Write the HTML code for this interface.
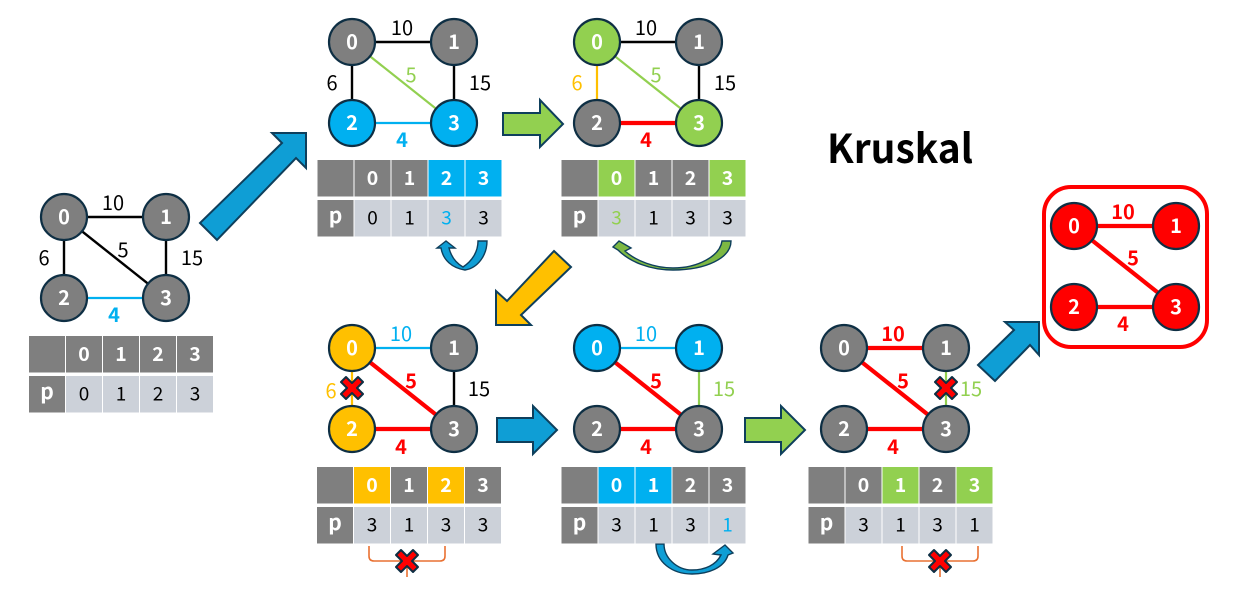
<!DOCTYPE html>
<html><head><meta charset="utf-8"><title>Kruskal</title>
<style>
html,body{margin:0;padding:0;background:#fff;width:1234px;height:605px;overflow:hidden}
svg{display:block;font-family:"Noto Sans CJK KR","Liberation Sans",sans-serif}
text{text-anchor:middle}
.n{font-size:20px;font-weight:700;fill:#fff}
.h{font-size:19.5px;font-weight:700;fill:#fff}
.p{font-size:21px;font-weight:700;fill:#fff}
.e{font-size:20px;fill:#000}
.v{font-size:19px;fill:#000}
.b{font-weight:700}
.ci{stroke:#0E2F44;stroke-width:2.2}
.g{fill:#7F7F7F}.c{fill:#CCD1D9}
.bl{fill:#00B0F0}.gr{fill:#92D050}.ye{fill:#FFC000}.rd{fill:#FF0000}
.k{stroke:#000;stroke-width:2.4}
.kb{stroke:#00B0F0;stroke-width:2.2}
.kg{stroke:#92D050;stroke-width:2.2}
.ky{stroke:#FFC000;stroke-width:2.2}
.kr{stroke:#FF0000;stroke-width:4.2}
.ar{stroke:#0E3F5C;stroke-width:2;stroke-linejoin:miter}
.cv{stroke:#0E3F5C;stroke-width:1.4;stroke-linejoin:miter}
.x{fill:#FF0000;stroke:#0E2F44;stroke-width:2;stroke-linejoin:round}
.br{fill:none;stroke:#E97132;stroke-width:1.6}
</style></head><body>
<svg width="1234" height="605" viewBox="0 0 1234 605" xmlns="http://www.w3.org/2000/svg">

<!-- Arrows -->
<polygon class="ar" fill="#0F9ED5" points="200,223 217,240 296,158 306,168 306,133 272,133 282,143"/>
<polygon class="ar" fill="#92D050" points="503,113 540,113 540,100 563,124 540,147 540,135 503,135"/>
<polygon class="ar" fill="#FFC000" points="554,251 571,267 521,315 531,325 496,325 496,291 507,301"/>
<polygon class="ar" fill="#0F9ED5" points="497,418 533,418 533,406 557,430 533,454 533,442 497,442"/>
<polygon class="ar" fill="#92D050" points="745,418 781,418 781,406 805,430 781,454 781,442 745,442"/>
<polygon class="ar" fill="#0F9ED5" points="978,365 995,381 1030,345 1039,355 1039,322 1005,322 1014,330"/>

<!-- Curved arrows -->
<path class="cv" fill="#0F9ED5" d="M478,241 L487,241 C487,255 478,268 465,270 C452,268 443,260 441,248 L437,248 L446,241 L455,248 L449,248 C451,256 456,263 463,267 C472,261 478,252 478,241 Z"/>
<path class="cv" fill="#7DB843" d="M722,241 L731,241 C731,258 706,270 673,270 C650,270 630,262 618,250 L613,247 L619,241 L631,248 L625,251 C636,261 655,268 673,268 C698,268 720,256 722,241 Z"/>
<path class="cv" fill="#0F9ED5" d="M656,544 L664,544 C664,558 677,570 692,570 C705,570 716,565 721,555 L713,554 L725,545 L733,553 L728,555 C724,568 708,574 692,574 C672,574 656,562 656,544 Z"/>

<!-- Graph 1 -->
<g transform="translate(64,217)">
<line class="k" x2="102"/><line class="k" y2="81"/><line class="k" x1="102" x2="102" y2="81"/><line class="k" x2="102" y2="81"/><line class="kb" y1="81" x2="102" y2="81"/>
<circle class="ci g" r="23"/><circle class="ci g" cx="102" r="23"/><circle class="ci g" cy="81" r="23"/><circle class="ci g" cx="102" cy="81" r="23"/>
<text class="n" y="7">0</text><text class="n" x="102" y="7">1</text><text class="n" y="88">2</text><text class="n" x="102" y="88">3</text>
<text class="e" x="49" y="-7">10</text><text class="e" x="-20" y="48">6</text><text class="e" x="59" y="40">5</text><text class="e" x="128" y="48">15</text><text class="e b" x="50" y="105" style="fill:#00B0F0">4</text>
</g>

<!-- Graph A -->
<g transform="translate(352,42)">
<line class="k" x2="102"/><line class="k" y2="81"/><line class="k" x1="102" x2="102" y2="81"/><line class="kg" x2="102" y2="81"/><line class="kb" y1="81" x2="102" y2="81"/>
<circle class="ci g" r="23"/><circle class="ci g" cx="102" r="23"/><circle class="ci bl" cy="81" r="23"/><circle class="ci bl" cx="102" cy="81" r="23"/>
<text class="n" y="7">0</text><text class="n" x="102" y="7">1</text><text class="n" y="88">2</text><text class="n" x="102" y="88">3</text>
<text class="e" x="50" y="-7">10</text><text class="e" x="-20" y="48">6</text><text class="e" x="59" y="40" style="fill:#92D050">5</text><text class="e" x="128" y="48">15</text><text class="e b" x="50" y="105" style="fill:#00B0F0">4</text>
</g>

<!-- Graph B -->
<g transform="translate(597,42)">
<line class="k" x2="102"/><line class="ky" y2="81"/><line class="k" x1="102" x2="102" y2="81"/><line class="kg" x2="102" y2="81"/><line class="kr" y1="81" x2="102" y2="81"/>
<circle class="ci gr" r="23"/><circle class="ci g" cx="102" r="23"/><circle class="ci g" cy="81" r="23"/><circle class="ci gr" cx="102" cy="81" r="23"/>
<text class="n" y="7">0</text><text class="n" x="102" y="7">1</text><text class="n" y="88">2</text><text class="n" x="102" y="88">3</text>
<text class="e" x="49" y="-7">10</text><text class="e" x="-20" y="48" style="fill:#FFC000">6</text><text class="e" x="59" y="40" style="fill:#92D050">5</text><text class="e" x="128" y="48">15</text><text class="e b" x="49" y="105" style="fill:#FF0000">4</text>
</g>

<!-- Graph C -->
<g transform="translate(352,348)">
<line class="kb" x2="102"/><line class="ky" y2="81"/><line class="k" x1="102" x2="102" y2="81"/><line class="kr" x2="102" y2="81"/><line class="kr" y1="81" x2="102" y2="81"/>
<circle class="ci ye" r="23"/><circle class="ci g" cx="102" r="23"/><circle class="ci ye" cy="81" r="23"/><circle class="ci g" cx="102" cy="81" r="23"/>
<text class="n" y="7">0</text><text class="n" x="102" y="7">1</text><text class="n" y="88">2</text><text class="n" x="102" y="88">3</text>
<text class="e" x="49" y="-7" style="fill:#00B0F0">10</text><text class="e" x="-21" y="50" style="fill:#FFC000">6</text><text class="e b" x="59" y="40" style="fill:#FF0000">5</text><text class="e" x="127" y="48">15</text><text class="e b" x="49" y="106" style="fill:#FF0000">4</text>
<polygon class="x" points="-6,29 0,35 6,29 11,34 5,40 11,46 6,51 0,45 -6,51 -11,46 -5,40 -11,34"/>
</g>

<!-- Graph D -->
<g transform="translate(597,348)">
<line class="kb" x2="102"/><line class="kg" x1="102" x2="102" y2="81"/><line class="kr" x2="102" y2="81"/><line class="kr" y1="81" x2="102" y2="81"/>
<circle class="ci bl" r="23"/><circle class="ci bl" cx="102" r="23"/><circle class="ci g" cy="81" r="23"/><circle class="ci g" cx="102" cy="81" r="23"/>
<text class="n" y="7">0</text><text class="n" x="102" y="7">1</text><text class="n" y="88">2</text><text class="n" x="102" y="88">3</text>
<text class="e" x="49" y="-7" style="fill:#00B0F0">10</text><text class="e b" x="59" y="40" style="fill:#FF0000">5</text><text class="e" x="127" y="48" style="fill:#92D050">15</text><text class="e b" x="49" y="106" style="fill:#FF0000">4</text>
</g>

<!-- Graph E -->
<g transform="translate(844,348)">
<line class="kr" x2="102"/><line class="kg" x1="102" x2="102" y2="81"/><line class="kr" x2="102" y2="81"/><line class="kr" y1="81" x2="102" y2="81"/>
<circle class="ci g" r="23"/><circle class="ci g" cx="102" r="23"/><circle class="ci g" cy="81" r="23"/><circle class="ci g" cx="102" cy="81" r="23"/>
<text class="n" y="7">0</text><text class="n" x="102" y="7">1</text><text class="n" y="88">2</text><text class="n" x="102" y="88">3</text>
<text class="e b" x="49" y="-7" style="fill:#FF0000">10</text><text class="e b" x="59" y="40" style="fill:#FF0000">5</text><text class="e" x="127" y="48" style="fill:#92D050">15</text><text class="e b" x="49" y="106" style="fill:#FF0000">4</text>
<polygon class="x" transform="translate(102,0)" points="-6,29 0,35 6,29 11,34 5,40 11,46 6,51 0,45 -6,51 -11,46 -5,40 -11,34"/>
</g>

<!-- Result -->
<rect x="1044" y="187" width="163" height="160" rx="27" fill="none" stroke="#FF0000" stroke-width="4"/>
<g transform="translate(1074,226)">
<line class="kr" x2="102"/><line class="kr" x2="102" y2="81"/><line class="kr" y1="81" x2="102" y2="81"/>
<circle class="ci rd" r="23"/><circle class="ci rd" cx="102" r="23"/><circle class="ci rd" cy="81" r="23"/><circle class="ci rd" cx="102" cy="81" r="23"/>
<text class="n" y="7">0</text><text class="n" x="102" y="7">1</text><text class="n" y="88">2</text><text class="n" x="102" y="88">3</text>
<text class="e b" x="49" y="-7" style="fill:#FF0000">10</text><text class="e b" x="59" y="39" style="fill:#FF0000">5</text><text class="e b" x="49" y="105" style="fill:#FF0000">4</text>
</g>

<text x="900" y="163" font-size="40" font-weight="700" fill="#000" textLength="146" lengthAdjust="spacingAndGlyphs">Kruskal</text>

<!-- Table 1 -->
<g transform="translate(29,336)">
<rect class="g" width="36" height="36.5"/><rect class="g" x="37" width="36" height="36.5"/><rect class="g" x="74" width="36" height="36.5"/><rect class="g" x="111" width="36" height="36.5"/><rect class="g" x="148" width="36" height="36.5"/>
<rect class="g" y="40" width="36" height="36.5"/><rect class="c" x="37" y="40" width="36" height="36.5"/><rect class="c" x="74" y="40" width="36" height="36.5"/><rect class="c" x="111" y="40" width="36" height="36.5"/><rect class="c" x="148" y="40" width="36" height="36.5"/>
<text class="h" x="55" y="25">0</text><text class="h" x="92" y="25">1</text><text class="h" x="129" y="25">2</text><text class="h" x="166" y="25">3</text>
<text class="p" x="18" y="63">p</text><text class="v" x="55" y="64.5">0</text><text class="v" x="92" y="64.5">1</text><text class="v" x="129" y="64.5">2</text><text class="v" x="166" y="64.5">3</text>
</g>

<!-- Table A -->
<g transform="translate(317.5,160)">
<rect class="g" width="36" height="36.5"/><rect class="g" x="37" width="36" height="36.5"/><rect class="g" x="74" width="36" height="36.5"/><rect class="bl" x="111" width="36" height="36.5"/><rect class="bl" x="148" width="36" height="36.5"/>
<rect class="g" y="40" width="36" height="36.5"/><rect class="c" x="37" y="40" width="36" height="36.5"/><rect class="c" x="74" y="40" width="36" height="36.5"/><rect class="c" x="111" y="40" width="36" height="36.5"/><rect class="c" x="148" y="40" width="36" height="36.5"/>
<text class="h" x="55" y="25">0</text><text class="h" x="92" y="25">1</text><text class="h" x="129" y="25">2</text><text class="h" x="166" y="25">3</text>
<text class="p" x="18" y="63">p</text><text class="v" x="55" y="64.5">0</text><text class="v" x="92" y="64.5">1</text><text class="v" x="129" y="64.5" style="fill:#00B0F0">3</text><text class="v" x="166" y="64.5">3</text>
</g>

<!-- Table B -->
<g transform="translate(561.5,160)">
<rect class="g" width="36" height="36.5"/><rect class="gr" x="37" width="36" height="36.5"/><rect class="g" x="74" width="36" height="36.5"/><rect class="g" x="111" width="36" height="36.5"/><rect class="gr" x="148" width="36" height="36.5"/>
<rect class="g" y="40" width="36" height="36.5"/><rect class="c" x="37" y="40" width="36" height="36.5"/><rect class="c" x="74" y="40" width="36" height="36.5"/><rect class="c" x="111" y="40" width="36" height="36.5"/><rect class="c" x="148" y="40" width="36" height="36.5"/>
<text class="h" x="55" y="25">0</text><text class="h" x="92" y="25">1</text><text class="h" x="129" y="25">2</text><text class="h" x="166" y="25">3</text>
<text class="p" x="18" y="63">p</text><text class="v" x="55" y="64.5" style="fill:#92D050">3</text><text class="v" x="92" y="64.5">1</text><text class="v" x="129" y="64.5">3</text><text class="v" x="166" y="64.5">3</text>
</g>

<!-- Table C -->
<g transform="translate(317,467)">
<rect class="g" width="36" height="36.5"/><rect class="ye" x="37" width="36" height="36.5"/><rect class="g" x="74" width="36" height="36.5"/><rect class="ye" x="111" width="36" height="36.5"/><rect class="g" x="148" width="36" height="36.5"/>
<rect class="g" y="40" width="36" height="36.5"/><rect class="c" x="37" y="40" width="36" height="36.5"/><rect class="c" x="74" y="40" width="36" height="36.5"/><rect class="c" x="111" y="40" width="36" height="36.5"/><rect class="c" x="148" y="40" width="36" height="36.5"/>
<text class="h" x="55" y="25">0</text><text class="h" x="92" y="25">1</text><text class="h" x="129" y="25">2</text><text class="h" x="166" y="25">3</text>
<text class="p" x="18" y="63">p</text><text class="v" x="55" y="64.5">3</text><text class="v" x="92" y="64.5">1</text><text class="v" x="129" y="64.5">3</text><text class="v" x="166" y="64.5">3</text>
</g>

<!-- Table D -->
<g transform="translate(561.5,467)">
<rect class="g" width="36" height="36.5"/><rect class="bl" x="37" width="36" height="36.5"/><rect class="bl" x="74" width="36" height="36.5"/><rect class="g" x="111" width="36" height="36.5"/><rect class="g" x="148" width="36" height="36.5"/>
<rect class="g" y="40" width="36" height="36.5"/><rect class="c" x="37" y="40" width="36" height="36.5"/><rect class="c" x="74" y="40" width="36" height="36.5"/><rect class="c" x="111" y="40" width="36" height="36.5"/><rect class="c" x="148" y="40" width="36" height="36.5"/>
<text class="h" x="55" y="25">0</text><text class="h" x="92" y="25">1</text><text class="h" x="129" y="25">2</text><text class="h" x="166" y="25">3</text>
<text class="p" x="18" y="63">p</text><text class="v" x="55" y="64.5">3</text><text class="v" x="92" y="64.5">1</text><text class="v" x="129" y="64.5">3</text><text class="v" x="166" y="64.5" style="fill:#00B0F0">1</text>
</g>

<!-- Table E -->
<g transform="translate(808.5,467)">
<rect class="g" width="36" height="36.5"/><rect class="g" x="37" width="36" height="36.5"/><rect class="gr" x="74" width="36" height="36.5"/><rect class="g" x="111" width="36" height="36.5"/><rect class="gr" x="148" width="36" height="36.5"/>
<rect class="g" y="40" width="36" height="36.5"/><rect class="c" x="37" y="40" width="36" height="36.5"/><rect class="c" x="74" y="40" width="36" height="36.5"/><rect class="c" x="111" y="40" width="36" height="36.5"/><rect class="c" x="148" y="40" width="36" height="36.5"/>
<text class="h" x="55" y="25">0</text><text class="h" x="92" y="25">1</text><text class="h" x="129" y="25">2</text><text class="h" x="166" y="25">3</text>
<text class="p" x="18" y="63">p</text><text class="v" x="55" y="64.5">3</text><text class="v" x="92" y="64.5">1</text><text class="v" x="129" y="64.5">3</text><text class="v" x="166" y="64.5">1</text>
</g>

<!-- Brackets -->
<path class="br" d="M369,546 V556 Q369,561 374,561 H440 Q445,561 445,556 V546 M407,561 V577"/>
<polygon class="x" transform="translate(407,561)" points="-6,-11 0,-5 6,-11 11,-6 5,0 11,6 6,11 0,5 -6,11 -11,6 -5,0 -11,-6"/>
<path class="br" d="M902,546 V556 Q902,561 907,561 H973 Q978,561 978,556 V546 M940,561 V577"/>
<polygon class="x" transform="translate(940,561)" points="-6,-11 0,-5 6,-11 11,-6 5,0 11,6 6,11 0,5 -6,11 -11,6 -5,0 -11,-6"/>
</svg>
</body></html>
